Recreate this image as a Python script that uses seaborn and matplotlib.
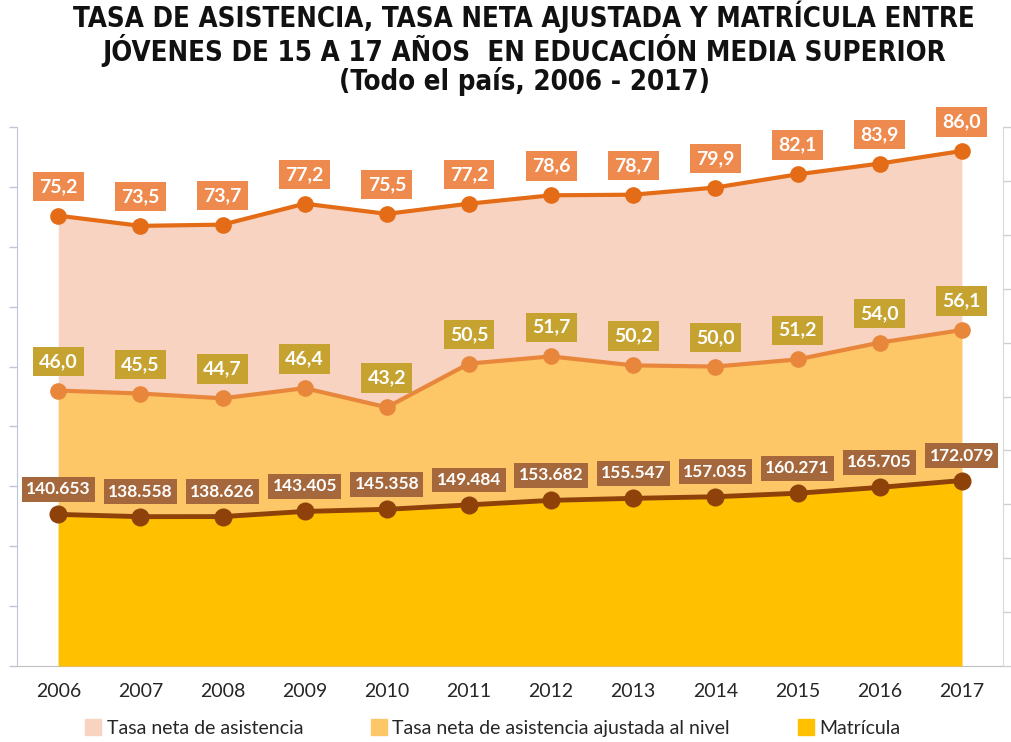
import numpy as np
import pandas as pd
import matplotlib
matplotlib.use("Agg")
import matplotlib.pyplot as plt
from matplotlib.lines import Line2D
import seaborn as sns

years = [2006, 2007, 2008, 2009, 2010, 2011, 2012, 2013, 2014, 2015, 2016, 2017]
asistencia = [75.2, 73.5, 73.7, 77.2, 75.5, 77.2, 78.6, 78.7, 79.9, 82.1, 83.9, 86.0]
ajustada = [46.0, 45.5, 44.7, 46.4, 43.2, 50.5, 51.7, 50.2, 50.0, 51.2, 54.0, 56.1]
matricula = [140653, 138558, 138626, 143405, 145358, 149484, 153682, 155547,
             157035, 160271, 165705, 172079]

legend_labels = ["Tasa neta de asistencia",
                 "Tasa neta de asistencia ajustada al nivel",
                 "Matrícula"]

title = ("TASA DE ASISTENCIA, TASA NETA AJUSTADA Y MATRÍCULA ENTRE\n"
         "JÓVENES DE 15 A 17 AÑOS  EN EDUCACIÓN MEDIA SUPERIOR\n"
         "(Todo el país, 2006 - 2017)")

df = pd.DataFrame({"year": years, "asistencia": asistencia,
                   "ajustada": ajustada, "matricula": matricula})

sns.set_style("white")
plt.rcParams['font.family'] = ['Lato', 'DejaVu Sans']

fill_top = "#F9D3C2"
fill_mid = "#FDC768"
fill_bot = "#FFC000"
line_top = "#E46C16"
line_mid = "#E8873C"
line_bot = "#8E420A"
box_top = "#EE8A4E"
box_mid = "#C6A330"
box_bot = "#A5683C"

fig = plt.figure(figsize=(10.12, 7.42), dpi=100)
ax = fig.add_axes([0.017, 0.1024, 0.974, 0.7264])
ax2 = ax.twinx()

ax.fill_between(df["year"], 0, df["asistencia"], color=fill_top, lw=0, zorder=1)
ax.fill_between(df["year"], 0, df["ajustada"], color=fill_mid, lw=0, zorder=2)
ax2.fill_between(df["year"], 0, df["matricula"], color=fill_bot, lw=0, zorder=1)

sns.lineplot(x="year", y="asistencia", data=df, ax=ax, color=line_top,
             linewidth=3, marker="o", markersize=12, markeredgewidth=0, zorder=4)
sns.lineplot(x="year", y="ajustada", data=df, ax=ax, color=line_mid,
             linewidth=3, marker="o", markersize=12, markeredgewidth=0, zorder=4)
sns.lineplot(x="year", y="matricula", data=df, ax=ax2, color=line_bot,
             linewidth=3.5, marker="o", markersize=13, markeredgewidth=0, zorder=4)

for x, v in zip(years, asistencia):
    ax.annotate(f"{v:.1f}".replace(".", ","), (x, v), xytext=(0, 21),
                textcoords="offset points", ha="center", va="center",
                color="white", fontsize=14, fontweight="bold", zorder=6,
                bbox=dict(boxstyle="square,pad=0.32", fc=box_top, ec="none"))
for x, v in zip(years, ajustada):
    ax.annotate(f"{v:.1f}".replace(".", ","), (x, v), xytext=(0, 21),
                textcoords="offset points", ha="center", va="center",
                color="white", fontsize=14, fontweight="bold", zorder=6,
                bbox=dict(boxstyle="square,pad=0.32", fc=box_mid, ec="none"))
for x, v in zip(years, matricula):
    ax2.annotate(f"{v:,}".replace(",", "."), (x, v), xytext=(0, 18),
                 textcoords="offset points", ha="center", va="center",
                 color="white", fontsize=12.5, fontweight="bold", zorder=6,
                 bbox=dict(boxstyle="square,pad=0.25", fc=box_bot, ec="none"))

ax.set_xlim(years[0] - 0.5, years[-1] + 0.5)
ax.set_ylim(0, 90)
ax2.set_ylim(0, 500000)
ax.set_yticks(np.arange(0, 91, 10))
ax2.set_yticks(np.arange(0, 500001, 50000))
ax.set_yticklabels([])
ax2.set_yticklabels([])
ax.set_xticks(years)
ax.set_xticklabels([str(y) for y in years], fontsize=14, color="#262626")
ax.set_xticks(np.arange(years[0] - 0.5, years[-1] + 1, 1), minor=True)
ax.tick_params(axis="x", which="major", length=0, pad=12)
ax.tick_params(axis="x", which="minor", length=7, color="#BFBFBF", width=1)
ax.tick_params(axis="y", length=6, color="#BFC6D4", width=1, left=True)
ax2.tick_params(axis="y", length=6, color="#D0D0D0", width=1, right=True)
ax.set_xlabel("")
ax.set_ylabel("")
ax2.set_ylabel("")
for a in (ax, ax2):
    a.spines["top"].set_visible(False)
ax.spines["right"].set_visible(False)
ax.spines["left"].set_color("#BFC6D4")
ax.spines["bottom"].set_color("#BFBFBF")
ax2.spines["right"].set_color("#D9D9D9")
ax2.spines["left"].set_visible(False)
ax2.spines["bottom"].set_visible(False)

handles = [Line2D([], [], marker="s", ls="", color=c, markersize=11)
           for c in (fill_top, fill_mid, fill_bot)]
fig.legend(handles, legend_labels, loc="center", bbox_to_anchor=(0.488, 0.018),
           ncol=3, frameon=False, fontsize=14, handlelength=0.6,
           handletextpad=0.4, columnspacing=3.6, labelcolor="#262626")

fig.text(0.518, 0.935, title, ha="center", va="center", fontsize=19.8,
         fontweight="bold", fontstretch="condensed", linespacing=1.02,
         color="#111111", family=["DejaVu Sans"])

fig.savefig("out.png", dpi=100)
